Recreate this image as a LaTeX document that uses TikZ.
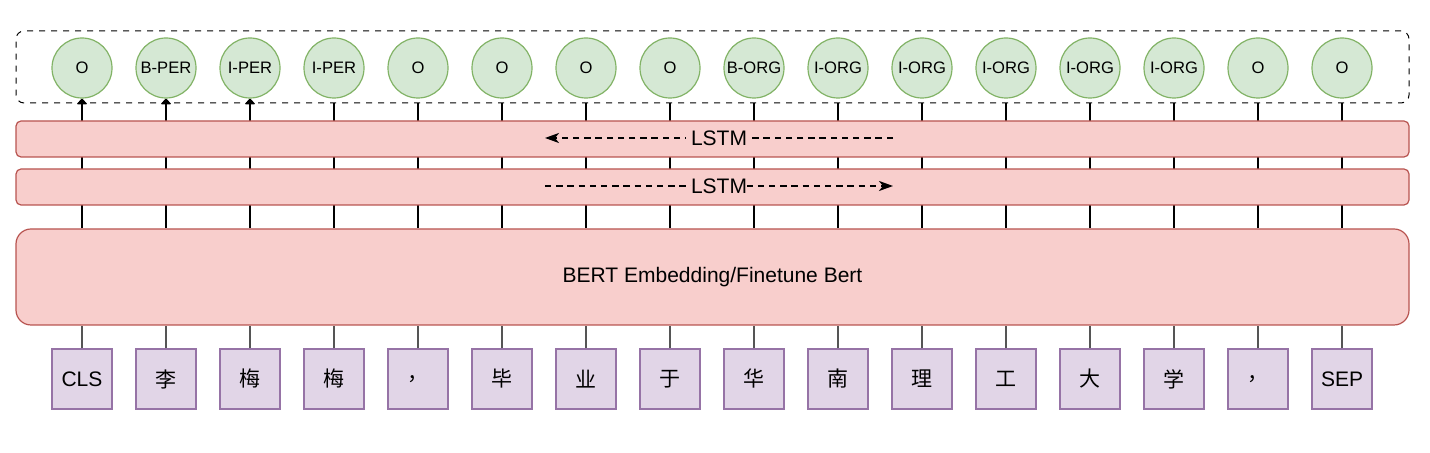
\documentclass[tikz,border=0pt]{standalone}
\usepackage{fontspec}
\setmainfont{Liberation Sans}
\newfontfamily\cjk{Noto Sans CJK SC}
\usetikzlibrary{arrows.meta,backgrounds}
\definecolor{tagfill}{HTML}{D5E8D4}
\definecolor{tagdraw}{HTML}{82B366}
\definecolor{barfill}{HTML}{F8CECC}
\definecolor{bardraw}{HTML}{B85450}
\definecolor{wordfill}{HTML}{E1D5E7}
\definecolor{worddraw}{HTML}{9673A6}
\definecolor{linkgray}{HTML}{555555}
\tikzset{
  tag/.style={circle,draw=tagdraw,fill=tagfill,line width=0.6pt,minimum size=30pt,inner sep=0pt,font=\fontsize{8.3}{10}\selectfont},
  word/.style={rectangle,draw=worddraw,fill=wordfill,line width=0.6pt,minimum size=30pt,inner sep=0pt,font=\fontsize{10.5}{12}\selectfont},
  bar/.style={rectangle,rounded corners=2.5pt,draw=bardraw,fill=barfill,line width=0.6pt,minimum width=696.5pt,minimum height=18pt,inner sep=0pt,font=\fontsize{10.5}{12}\selectfont},
  dashbox/.style={rectangle,rounded corners=4pt,draw,dashed,line width=0.5pt,minimum width=696.5pt,minimum height=36pt},
  link/.style={line width=0.6pt},
  lstmarrow/.style={dash pattern=on 3.2pt off 2.4pt,line width=1pt,-{Stealth[length=7pt,width=5pt,inset=2pt]}},
  lstmlabel/.style={fill=barfill,inner sep=0.6pt,font=\fontsize{10.5}{12}\selectfont}
}
\begin{document}
\begin{tikzpicture}[x=0.5pt,y=-0.5pt]
      \useasboundingbox (0,0) rectangle (1430,453);
      % Draw output tags
      \node (out) [dashbox] at (712.5,67) {};
      \foreach \t [count=\i from 0] in {O,B-PER,I-PER,I-PER,O,O,O,O,B-ORG,I-ORG,I-ORG,I-ORG,I-ORG,I-ORG,O,O}
        \node (c\i) [tag] at (82+84*\i,68) {\t};
      % Draw LSTM layers
      \node (lstmb) [bar] at (712.5,139) {};
      \node (lstmf) [bar] at (712.5,187) {};
      % Draw BERT block
      \node (bert) [bar,rounded corners=7.5pt,minimum height=48pt] at (712.5,277) {BERT Embedding/Finetune Bert};
      % Draw input words
      \foreach \w [count=\i from 0] in {CLS,{\cjk 李},{\cjk 梅},{\cjk 梅},{\cjk ，},{\cjk 毕},{\cjk 业},{\cjk 于},{\cjk 华},{\cjk 南},{\cjk 理},{\cjk 工},{\cjk 大},{\cjk 学},{\cjk ，},SEP}
        \node (w\i) [word] at (82+84*\i,379) {\w};
      % Draw links
      \foreach \i in {0,...,15}
        \draw [link,linkgray] (w\i.north) -- (bert.south -| w\i);
      \begin{scope}[on background layer]
        \foreach \i in {0,1,2}
          \draw [link,-{Triangle[length=3pt,width=5.5pt,round]}] (bert.north -| c\i) -- (c\i.south);
        \foreach \i in {3,...,15}
          \draw [link] (bert.north -| c\i) -- (out.south -| c\i);
      \end{scope}
      % Draw LSTM directions
      \coordinate (bl) at (545,138);
      \coordinate (br) at (893,138);
      \coordinate (fl) at (545,186);
      \coordinate (fr) at (893,186);
      \draw [lstmarrow] (br) -- (bl);
      \draw [lstmarrow] (fl) -- (fr);
      \node (lb) [lstmlabel,inner xsep=2.5pt] at (719,138) {LSTM};
      \node (lf) [lstmlabel,inner sep=0pt] at (719,186) {LSTM};
    \end{tikzpicture}
\end{document}
